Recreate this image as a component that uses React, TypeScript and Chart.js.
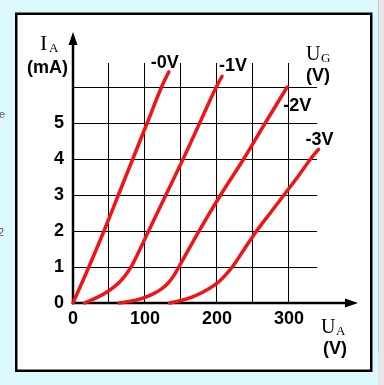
import { useEffect, useRef } from "react";
import { Chart, registerables } from "chart.js";

Chart.register(...registerables);

// Grid voltages (curve labels)
const gridVoltageLabels = ["-0V", "-1V", "-2V", "-3V"];

// Anode voltage U_A (V) and anode current I_A (mA) for each curve
const ua_0V = [0, 22, 43, 63, 83, 103, 123, 133];
const ia_0V = [0, 1, 2, 3, 4, 5, 6, 6.42];

const ua_1V = [16, 30, 45, 58, 70, 80, 92, 105, 129, 153, 176, 199, 207];
const ia_1V = [0, 0.12, 0.28, 0.46, 0.7, 0.98, 1.45, 2, 3, 4, 5, 6, 6.3];

const ua_2V = [64, 80, 96, 110, 122, 132, 140, 147, 175, 205, 237, 267, 297.5];
const ia_2V = [0, 0.05, 0.13, 0.24, 0.38, 0.55, 0.76, 1, 2, 3, 4, 5, 6];

const ua_3V = [134, 150, 166, 180, 192, 202, 212, 222, 238, 255, 274, 293, 312, 330, 341];
const ia_3V = [0, 0.07, 0.17, 0.3, 0.44, 0.58, 0.78, 1.02, 1.5, 2, 2.5, 3, 3.5, 4, 4.27];

// Tick labels
const xTickLabels = [0, 100, 200, 300];
const yTickLabels = [0, 1, 2, 3, 4, 5];

// Axis ranges
const X_MAX = 338.9;
const Y_MAX = 6.667;
const X_STEP = 50;
const Y_STEP = 1;

const RED = "#f01414";
const SANS = '"Liberation Sans", Arial, sans-serif';
const SERIF = '"Liberation Serif", "Times New Roman", serif';

const zip = (xs: number[], ys: number[]) => xs.map((x, i) => ({ x, y: ys[i] }));

const decoPlugin = {
  id: "deco",
  beforeDraw(chart: any) {
    const c = chart.ctx as CanvasRenderingContext2D;
    c.save();
    c.fillStyle = "#dcfafe";
    c.fillRect(0, 0, 384, 385);
    // right strip
    c.fillStyle = "#e6e6e6";
    c.fillRect(378, 0, 6, 385);
    c.fillStyle = "#c4c4c4";
    c.fillRect(378, 0, 1, 352);
    // panel
    c.fillStyle = "#ffffff";
    c.fillRect(16, 13, 356, 358);
    c.lineWidth = 2.5;
    c.strokeStyle = "#000";
    c.strokeRect(16.25, 13.75, 355, 357);
    // page text fragments on the left
    c.fillStyle = "#555";
    c.font = "11px " + SANS;
    c.textBaseline = "alphabetic";
    c.textAlign = "left";
    c.fillText("e", -1, 118);
    c.fillText("2", -2, 236);
    c.restore();
  },
  beforeDatasetsDraw(chart: any) {
    const c = chart.ctx as CanvasRenderingContext2D;
    const xs = chart.scales.x;
    const ys = chart.scales.y;
    const x0 = xs.getPixelForValue(0);
    const y0 = ys.getPixelForValue(0);
    c.save();
    c.strokeStyle = "#000";
    c.fillStyle = "#000";
    c.lineWidth = 2.5;
    // y axis
    c.beginPath();
    c.moveTo(x0, y0 + 1);
    c.lineTo(x0, 42);
    c.stroke();
    c.beginPath();
    c.moveTo(x0, 32);
    c.lineTo(x0 - 4.5, 45);
    c.lineTo(x0 + 4.5, 45);
    c.closePath();
    c.fill();
    // x axis
    c.beginPath();
    c.moveTo(x0 - 1, y0);
    c.lineTo(348, y0);
    c.stroke();
    c.beginPath();
    c.moveTo(358, y0);
    c.lineTo(345, y0 - 4.5);
    c.lineTo(345, y0 + 4.5);
    c.closePath();
    c.fill();
    c.restore();
  },
  afterDraw(chart: any) {
    const c = chart.ctx as CanvasRenderingContext2D;
    c.save();
    c.fillStyle = "#000";
    c.textBaseline = "alphabetic";
    c.textAlign = "left";
    // I_A
    c.font = "22px " + SERIF;
    c.fillText("I", 40, 50);
    c.font = "13px " + SERIF;
    c.fillText("A", 49, 52);
    c.font = "bold 18px " + SANS;
    c.textAlign = "center";
    c.fillText("(mA)", 47.5, 73);
    // U_G
    c.textAlign = "left";
    c.font = "20px " + SERIF;
    c.fillText("U", 306, 60);
    c.font = "13px " + SERIF;
    c.fillText("G", 321, 62);
    c.font = "bold 18px " + SANS;
    c.textAlign = "center";
    c.fillText("(V)", 318, 81);
    // U_A
    c.textAlign = "left";
    c.font = "20px " + SERIF;
    c.fillText("U", 321, 333);
    c.font = "13px " + SERIF;
    c.fillText("A", 336, 335);
    c.font = "bold 18px " + SANS;
    c.textAlign = "center";
    c.fillText("(V)", 335, 354);

    // curve labels near curve ends
    const offsets = [
      [-4, -9],
      [11, -10],
      [10, 19],
      [1, -9],
    ];
    c.font = "bold 18px " + SANS;
    c.textAlign = "center";
    c.textBaseline = "middle";
    chart.data.datasets.forEach((ds: any, i: number) => {
      const meta = chart.getDatasetMeta(i);
      const last = meta.data[meta.data.length - 1];
      c.fillText(gridVoltageLabels[i], last.x + offsets[i][0], last.y + offsets[i][1]);
    });
    c.restore();
  },
};

export default function App() {
  const ref = useRef<HTMLCanvasElement | null>(null);

  useEffect(() => {
    if (!ref.current) return;
    const series = [
      zip(ua_0V, ia_0V),
      zip(ua_1V, ia_1V),
      zip(ua_2V, ia_2V),
      zip(ua_3V, ia_3V),
    ];
    const chart = new Chart(ref.current, {
      type: "line",
      data: {
        datasets: series.map((d, i) => ({
          label: gridVoltageLabels[i],
          data: d,
          borderColor: RED,
          borderWidth: 3.5,
          pointRadius: 0,
          fill: false,
          cubicInterpolationMode: "monotone" as const,
          borderCapStyle: "round" as const,
          borderJoinStyle: "round" as const,
          clip: false as any,
        })),
      },
      options: {
        responsive: false,
        animation: false,
        devicePixelRatio: 1,
        layout: { padding: { left: 0, top: 63, right: 67, bottom: 52 } },
        plugins: { legend: { display: false }, tooltip: { enabled: false } },
        scales: {
          x: {
            type: "linear",
            min: 0,
            max: X_MAX,
            afterFit: (s: any) => {
              s.height = 30;
            },
            border: { display: false },
            grid: { color: "#000", lineWidth: 1, drawTicks: false },
            ticks: {
              stepSize: X_STEP,
              includeBounds: false,
              autoSkip: false,
              maxRotation: 0,
              padding: 5,
              color: "#000",
              font: { family: SANS, size: 18, weight: "bold" },
              callback: (v: any) => (xTickLabels.includes(Number(v)) ? String(v) : ""),
            },
          },
          y: {
            type: "linear",
            min: 0,
            max: Y_MAX,
            afterFit: (s: any) => {
              s.width = 73;
            },
            border: { display: false },
            grid: { color: "#000", lineWidth: 1, drawTicks: false },
            ticks: {
              stepSize: Y_STEP,
              includeBounds: false,
              autoSkip: false,
              padding: 9,
              color: "#000",
              font: { family: SANS, size: 18, weight: "bold" },
              callback: (v: any) => (yTickLabels.includes(Number(v)) ? String(v) : ""),
            },
          },
        },
      },
      plugins: [decoPlugin],
    });
    return () => chart.destroy();
  }, []);

  return (
    <div style={{ position: "fixed", left: 0, top: 0, width: 384, height: 385 }}>
      <canvas ref={ref} width={384} height={385} style={{ display: "block" }} />
    </div>
  );
}
